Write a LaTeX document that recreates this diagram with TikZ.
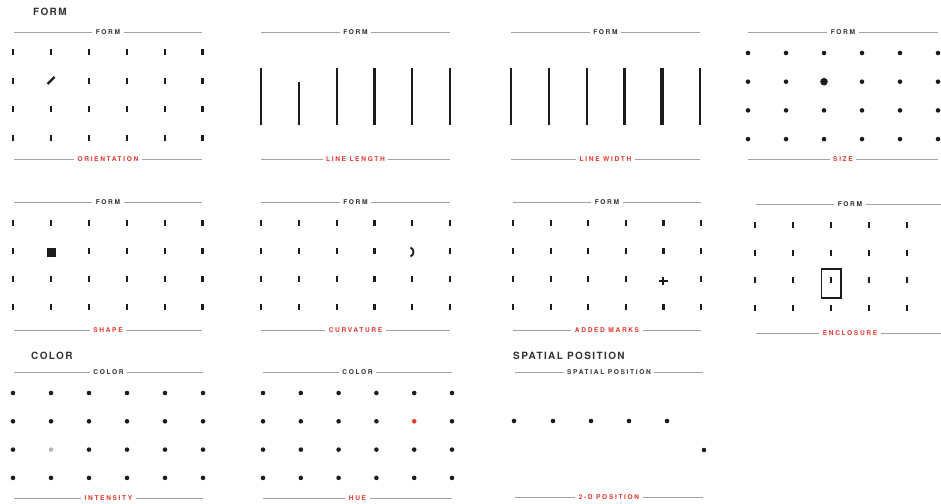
\documentclass[tikz,border=0pt]{standalone}
\usepackage{fontspec}
\setmainfont{TeX Gyre Heros}
\newfontfamily\capfont[LetterSpace=25]{TeX Gyre Heros}
\newfontfamily\headfont[LetterSpace=14]{TeX Gyre Heros}
\usetikzlibrary{positioning}

\definecolor{inkgray}{HTML}{1C1C1C}
\definecolor{rulegray}{HTML}{A2A2A2}
\definecolor{titlegray}{HTML}{333333}
\definecolor{labelred}{HTML}{E5392F}
\definecolor{fadegray}{HTML}{B4B4B4}

\begin{document}
\begin{tikzpicture}[x=1pt,y=-1pt,
    vtick/.style={draw=inkgray,line width=2.2pt},
    rule/.style={draw=rulegray,line width=0.8pt},
    cat/.style={fill=white,inner xsep=3.5pt,inner ysep=1pt,text=titlegray,
      font=\capfont\bfseries\fontsize{6.6}{7.5}\selectfont},
    prop/.style={cat,text=labelred},
    title/.style={anchor=base west,inner sep=0pt,text=titlegray,
      font=\headfont\bfseries\fontsize{10}{12}\selectfont}]
  \useasboundingbox (0,0) rectangle (941,503);

  % section titles
  \node[title] (t-form)  at (33,15.5)  {FORM};
  \node[title] (t-color) at (31,359.5) {COLOR};
  \node[title] (t-space) at (513,359.5) {SPATIAL POSITION};

  % rules with their labels
  \foreach \nm/\xa/\xb/\ya/\yb/\uptext/\downtext in {
      orient/14/202/32/159/FORM/ORIENTATION,
      length/261/450/32/159/FORM/LINE LENGTH,
      width/511/700/32/159/FORM/LINE WIDTH,
      size/748/938/32/159/FORM/SIZE,
      shape/14/202/202/330/FORM/SHAPE,
      curv/261/450/202/330/FORM/CURVATURE,
      added/513/701/202/330/FORM/ADDED MARKS,
      encl/756/944/204/333/FORM/ENCLOSURE,
      inten/14/203/372/498/COLOR/INTENSITY,
      hue/263/452/372/498/COLOR/HUE,
      pos/515/703/372/497/SPATIAL POSITION/2-D POSITION}{%
    \draw[rule] (\xa,\ya) -- (\xb,\ya) (\xa,\yb) -- (\xb,\yb);
    \node[cat]  (\nm-up)   at ({(\xa+\xb)/2},\ya) {\uptext};
    \node[prop] (\nm-down) at ({(\xa+\xb)/2},\yb) {\downtext};
  }

  % orientation
  \foreach \c in {0,...,5}
    \foreach \r in {0,...,3}{%
      \ifnum\c\r=11 \else
        \draw[vtick] ({13+37.9*\c},{49.5+28.4*\r}) -- ++(0,6);
      \fi}
  \draw[vtick] (47.5,84) -- (54.5,77);

  % line length
  \foreach \c/\ytop in {0/68,1/82,2/68,3/68,4/68,5/68}
    \draw[vtick] ({261+37.8*\c},\ytop) -- ({261+37.8*\c},125);

  % line width
  \foreach \c/\w in {0/2.2,1/2.2,2/2.2,3/2.2,4/4.2,5/2.2}
    \draw[vtick,line width=\w pt] ({511+37.8*\c},68) -- ++(0,57);

  % size
  \foreach \c in {0,...,5}
    \foreach \r in {0,...,3}{%
      \ifnum\c\r=21 \def\rad{3.8}\else\def\rad{2.3}\fi
      \fill[inkgray] ({748+38*\c},{53+28.7*\r}) circle[radius=\rad pt];}

  % shape
  \foreach \c in {0,...,5}
    \foreach \r in {0,...,3}{%
      \ifnum\c\r=11 \else
        \draw[vtick] ({13+37.9*\c},{220+28*\r}) -- ++(0,6);
      \fi}
  \fill[inkgray] (46.5,247.5) rectangle ++(9,9);

  % curvature
  \foreach \c in {0,...,5}
    \foreach \r in {0,...,3}{%
      \ifnum\c\r=41 \else
        \draw[vtick] ({261+37.8*\c},{220+28*\r}) -- ++(0,6);
      \fi}
  \draw[inkgray,line width=1.8pt] (410.5,247.5) .. controls (414.5,249.5) and (414.5,254.5) .. (410.5,256.5);

  % added marks
  \foreach \c in {0,...,5}
    \foreach \r in {0,...,3}{%
      \ifnum\c\r=42 \else
        \draw[vtick] ({513+37.6*\c},{220+28*\r}) -- ++(0,6);
      \fi}
  \draw[vtick] (663,276.5) -- (663,285) (658.5,281) -- (667.5,281);

  % enclosure
  \foreach \c in {0,...,4}
    \foreach \r in {0,...,3}
      \draw[vtick] ({755+37.9*\c},{222+27.7*\r}) -- ++(0,6);
  \draw[inkgray,line width=1.1pt] (821.5,269) rectangle (841,298);

  % intensity
  \foreach \c in {0,...,5}
    \foreach \r in {0,...,3}{%
      \ifnum\c\r=12 \def\ink{fadegray}\else\def\ink{inkgray}\fi
      \fill[\ink] ({13+38*\c},{393+28.3*\r}) circle[radius=2.3pt];}

  % hue
  \foreach \c in {0,...,5}
    \foreach \r in {0,...,3}{%
      \ifnum\c\r=41 \def\ink{labelred}\else\def\ink{inkgray}\fi
      \fill[\ink] ({263+37.8*\c},{393+28.3*\r}) circle[radius=2.3pt];}

  % 2-d position
  \foreach \x/\y in {514/421,553/421,591/421,629/421,667/421,704/450}
    \fill[inkgray] (\x,\y) circle[radius=2.3pt];
\end{tikzpicture}
\end{document}
